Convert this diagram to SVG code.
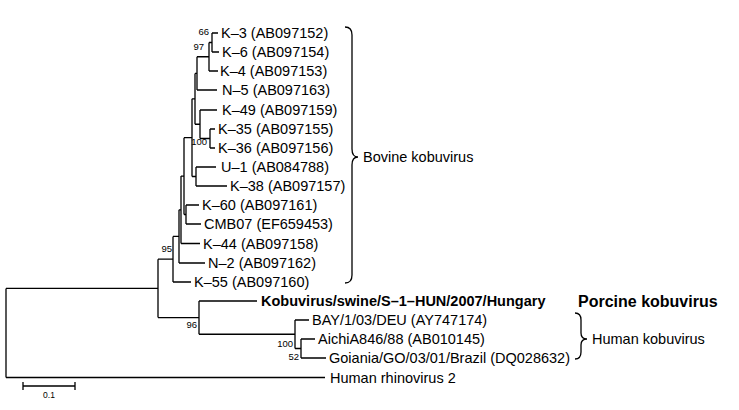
<svg xmlns="http://www.w3.org/2000/svg" width="739" height="410" viewBox="0 0 739 410">
<style>
text{font-family:"Liberation Sans",Arial,sans-serif;fill:#000}
.lf{font-size:14.5px}
.bd{font-size:14.5px;font-weight:bold}
.bs{font-size:9.5px}
.br{fill:none;stroke:#000;stroke-width:1.3}
.cl{font-size:14.5px}
</style>
<rect width="739" height="410" fill="#fff"/>
<g id="connectors" class="br">
<path d="M212 33V52M212 33H218M212 52H219"/>
<path d="M209 42.5V71M209 42.5H212M209 71H218"/>
<path d="M197 56.75V90M197 56.75H209M197 90H217"/>
<path d="M210 129V148M210 129H215M210 148H215"/>
<path d="M200 110V138.5M200 110H217M200 138.5H210"/>
<path d="M195 73.4V124.25M195 73.4H197M195 124.25H200"/>
<path d="M196 167V186M196 167H216M196 186H227"/>
<path d="M192 98.8V176.5M192 98.8H195M192 176.5H196"/>
<path d="M186 205V224M186 205H199M186 224H201"/>
<path d="M184 137.65V214.5M184 137.65H192M184 214.5H186"/>
<path d="M181 176.1V243.5M181 176.1H184M181 243.5H200"/>
<path d="M179 209.8V263M179 209.8H181M179 263H205"/>
<path d="M173 236.4V282M173 236.4H179M173 282H191"/>
<path d="M301 339V358M301 339H315M301 358H326"/>
<path d="M295 320V348.5M295 320H309M295 348.5H301"/>
<path d="M199 301V334.25M199 301H257M199 334.25H295"/>
<path d="M158 259.2V317.6M158 259.2H173M158 317.6H199"/>
<path d="M6 288.4V377.5M6 288.4H158M6 377.5H325"/>
</g>
<g id="bootstrap" class="bs">
<text x="209" y="35" text-anchor="end">66</text>
<text x="204" y="50" text-anchor="end">97</text>
<text x="207" y="145" text-anchor="end">100</text>
<text x="172" y="252" text-anchor="end">95</text>
<text x="197" y="328" text-anchor="end">96</text>
<text x="293" y="347" text-anchor="end">100</text>
<text x="299" y="360" text-anchor="end">52</text>
</g>
<g id="K-3"><text class="lf" x="221" y="38">K–3 (AB097152)</text></g>
<g id="K-6"><text class="lf" x="222" y="57">K–6 (AB097154)</text></g>
<g id="K-4"><text class="lf" x="220" y="76">K–4 (AB097153)</text></g>
<g id="N-5"><text class="lf" x="222" y="95">N–5 (AB097163)</text></g>
<g id="K-49"><text class="lf" x="222" y="115">K–49 (AB097159)</text></g>
<g id="K-35"><text class="lf" x="218" y="134">K–35 (AB097155)</text></g>
<g id="K-36"><text class="lf" x="218" y="153">K–36 (AB097156)</text></g>
<g id="U-1"><text class="lf" x="221" y="172">U–1 (AB084788)</text></g>
<g id="K-38"><text class="lf" x="230" y="191">K–38 (AB097157)</text></g>
<g id="K-60"><text class="lf" x="202" y="210">K–60 (AB097161)</text></g>
<g id="CMB07"><text class="lf" x="204" y="229">CMB07 (EF659453)</text></g>
<g id="K-44"><text class="lf" x="203" y="248.5">K–44 (AB097158)</text></g>
<g id="N-2"><text class="lf" x="208" y="268">N–2 (AB097162)</text></g>
<g id="K-55"><text class="lf" x="194" y="287">K–55 (AB097160)</text></g>
<g id="swine"><text class="bd" x="261" y="306">Kobuvirus/swine/S–1–HUN/2007/Hungary</text></g>
<g id="BAY"><text class="lf" x="312" y="325">BAY/1/03/DEU (AY747174)</text></g>
<g id="Aichi"><text class="lf" x="318" y="344">AichiA846/88 (AB010145)</text></g>
<g id="Goiania"><text class="lf" x="329" y="363">Goiania/GO/03/01/Brazil (DQ028632)</text></g>
<g id="HRV"><text class="lf" x="330" y="382.5">Human rhinovirus 2</text></g>
<g id="bovine-clade">
<path class="br" d="M345 27Q352 27 352 35V149Q352 157 358 157Q352 157 352 165V275Q352 283 345 283"/>
<text class="cl" x="363" y="162">Bovine kobuvirus</text>
</g>
<g id="porcine-clade"><text class="bd" x="578" y="307" style="font-size:16px">Porcine kobuvirus</text></g>
<g id="human-clade">
<path class="br" d="M575 313Q581 313 581 320V333Q581 339 587 339Q581 339 581 345V352Q581 359 575 359"/>
<text class="cl" x="592" y="344">Human kobuvirus</text>
</g>
<g id="scale">
<path class="br" d="M23 386H75M23 382V390M75 382V390"/>
<text x="49" y="398" text-anchor="middle" style="font-size:8.5px">0.1</text>
</g>
</svg>
